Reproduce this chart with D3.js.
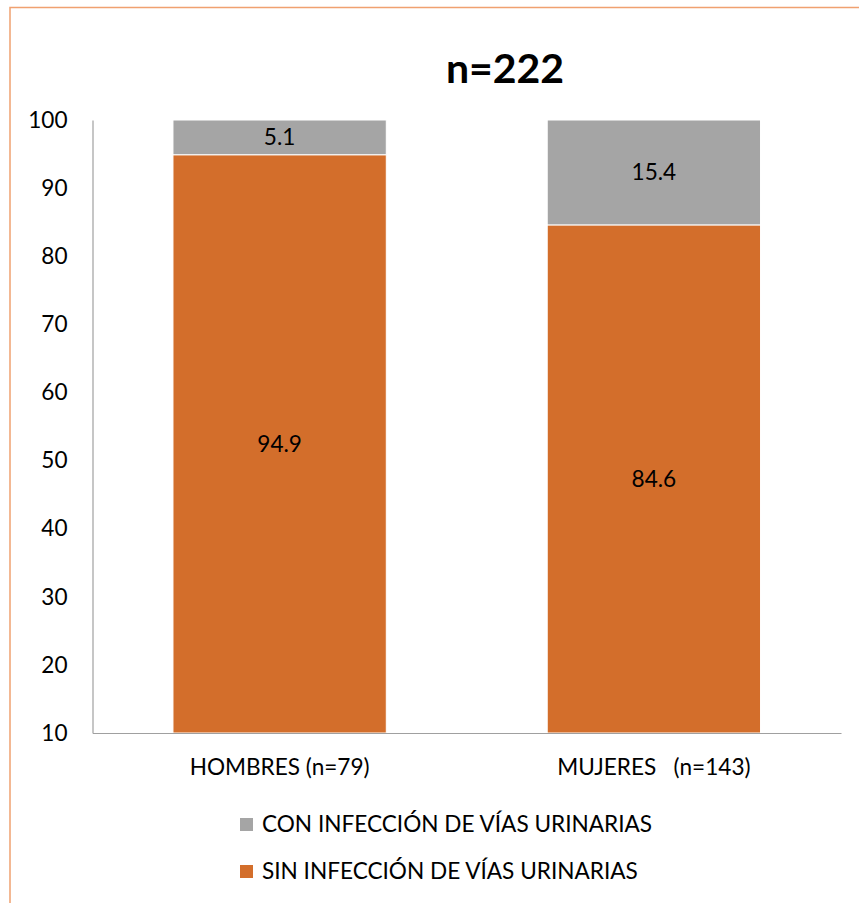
<!DOCTYPE html>
<html>
<head>
<meta charset="utf-8">
<script src="https://cdn.jsdelivr.net/npm/d3@7"></script>
<style>
  html, body { margin: 0; padding: 0; background: #fff; }
  svg { display: block; }
  text { font-family: Lato, "Open Sans", sans-serif; fill: #000; }
</style>
</head>
<body>
<svg id="chart" width="859" height="903"></svg>
<script>
const categories = ["HOMBRES (n=79)", "MUJERES   (n=143)"];
const seriesNames = ["SIN INFECCIÓN DE VÍAS URINARIAS", "CON INFECCIÓN DE VÍAS URINARIAS"];
const sinValues = [94.9, 84.6];
const conValues = [5.1, 15.4];
const yTicks = [10, 20, 30, 40, 50, 60, 70, 80, 90, 100];
const title = "n=222";
const colors = ["#D36E2B", "#A5A5A5"];

const svg = d3.select("#chart");
const W = 859, H = 903;
const plot = { left: 92.5, right: 841, top: 120, bottom: 733 };
const fs = "22.6px";

// outer frame
svg.append("rect")
  .attr("x", 10).attr("y", 7.5)
  .attr("width", W + 20).attr("height", H + 20)
  .attr("fill", "none")
  .attr("stroke", "#F0A170")
  .attr("stroke-width", 1.5);

svg.append("text")
  .attr("x", 505).attr("y", 83)
  .attr("text-anchor", "middle")
  .style("font-size", "41px").style("font-weight", "bold")
  .text(title);

const x = d3.scaleBand().domain(categories)
  .range([plot.left, plot.right])
  .paddingInner(0.43).paddingOuter(0.215);
const y = d3.scaleLinear().domain([10, 100]).range([plot.bottom, plot.top]);

const rows = categories.map((c, i) => ({ cat: c, sin: sinValues[i], con: conValues[i] }));
const stack = d3.stack().keys(["sin", "con"])(rows);

const g = svg.append("g");
stack.forEach((layer, li) => {
  g.selectAll(null).data(layer).enter().append("rect")
    .attr("x", d => x(d.data.cat))
    .attr("width", x.bandwidth())
    .attr("y", d => y(Math.min(100, d[1])))
    .attr("height", d => y(Math.max(10, d[0])) - y(Math.min(100, d[1])))
    .attr("fill", colors[li])
    .attr("stroke", "#fff")
    .attr("stroke-width", 1);
  g.selectAll(null).data(layer).enter().append("text")
    .attr("x", d => x(d.data.cat) + x.bandwidth() / 2)
    .attr("y", d => (y(Math.max(10, d[0])) + y(Math.min(100, d[1]))) / 2)
    .attr("dy", "0.35em")
    .attr("text-anchor", "middle")
    .style("font-size", fs)
    .text(d => d3.format(".1f")(d[1] - d[0]));
});

// axes
const yAxis = svg.append("g").attr("transform", `translate(${plot.left},0)`)
  .call(d3.axisLeft(y).tickValues(yTicks).tickSize(0).tickPadding(25));
yAxis.select(".domain").attr("stroke", "#A0A0A0").attr("stroke-width", 1.2);
yAxis.selectAll("text").style("font-size", fs).style("font-family", "Lato, 'Open Sans', sans-serif").attr("fill", "#000");

const xAxis = svg.append("g").attr("transform", `translate(0,${plot.bottom})`)
  .call(d3.axisBottom(x).tickSize(0).tickPadding(26));
xAxis.select(".domain").attr("stroke", "#A0A0A0").attr("stroke-width", 1.2);
xAxis.selectAll("text").style("font-size", fs).style("font-family", "Lato, 'Open Sans', sans-serif")
  .style("white-space", "pre").attr("xml:space", "preserve").attr("fill", "#000");

// legend
const legendItems = [
  { name: seriesNames[1], color: colors[1] },
  { name: seriesNames[0], color: colors[0] }
];
const lg = svg.append("g");
legendItems.forEach((it, i) => {
  const cy = 824 + i * 47;
  lg.append("rect").attr("x", 240).attr("y", cy - 6).attr("width", 13).attr("height", 13).attr("fill", it.color);
  lg.append("text").attr("x", 262).attr("y", cy).attr("dy", "0.35em")
    .style("font-size", fs).text(it.name);
});
</script>
</body>
</html>
